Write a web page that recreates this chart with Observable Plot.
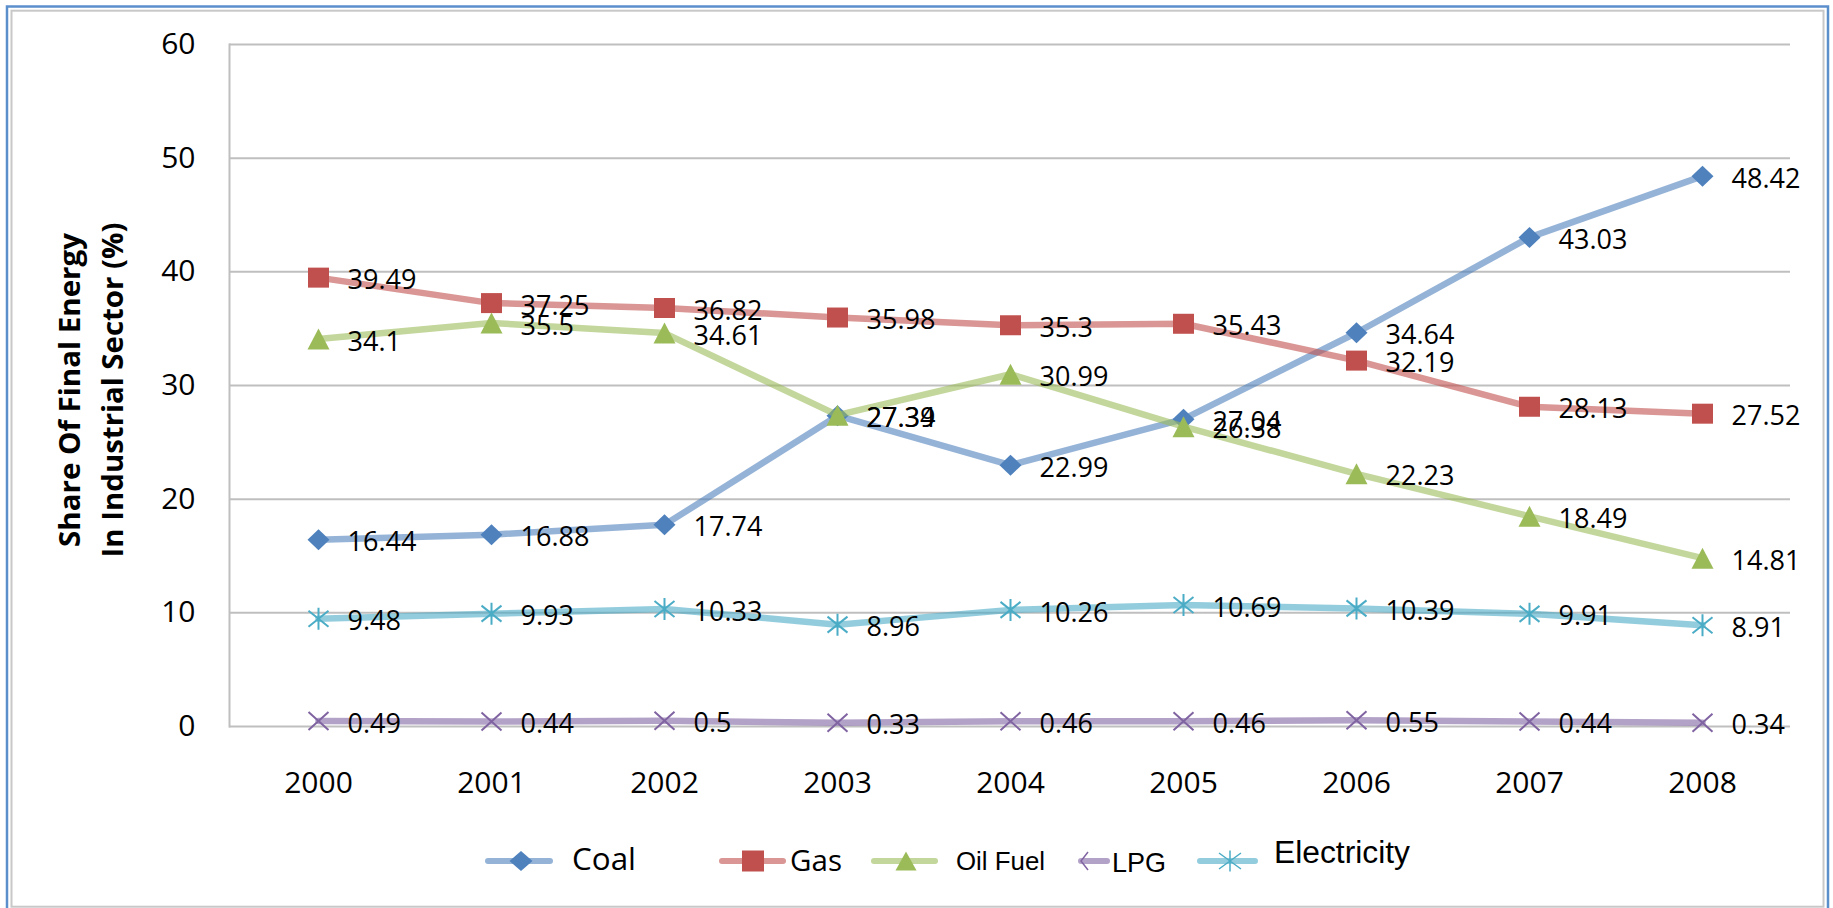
<!DOCTYPE html>
<html><head><meta charset="utf-8">
<script src="https://cdn.jsdelivr.net/npm/d3@7"></script>
<script src="https://cdn.jsdelivr.net/npm/@observablehq/plot@0.6"></script>
<style>
html,body{margin:0;padding:0;background:#fff;width:1833px;height:908px;overflow:hidden;}
#wrap{position:relative;width:1833px;height:908px;}
#chart{position:absolute;left:0;top:0;}
#overlay{position:absolute;left:0;top:0;pointer-events:none;}
</style></head><body>
<div id="wrap"><div id="chart"></div><svg id="overlay" width="1833" height="908" xmlns="http://www.w3.org/2000/svg"></svg></div>
<script>
const years = ["2000","2001","2002","2003","2004","2005","2006","2007","2008"];
const coal = [16.44, 16.88, 17.74, 27.34, 22.99, 27.04, 34.64, 43.03, 48.42];
const gas = [39.49, 37.25, 36.82, 35.98, 35.3, 35.43, 32.19, 28.13, 27.52];
const oilFuel = [34.1, 35.5, 34.61, 27.39, 30.99, 26.38, 22.23, 18.49, 14.81];
const lpg = [0.49, 0.44, 0.5, 0.33, 0.46, 0.46, 0.55, 0.44, 0.34];
const electricity = [9.48, 9.93, 10.33, 8.96, 10.26, 10.69, 10.39, 9.91, 8.91];
const seriesNames = ["Coal", "Gas", "Oil Fuel", "LPG", "Electricity"];
const seriesColors = ["#4F81BD", "#C0504D", "#9BBB59", "#8064A2", "#4BACC6"];
const yTicks = [0, 10, 20, 30, 40, 50, 60];
const yTitle = ["Share Of Final Energy", "In Industrial Sector (%)"];

const seriesValues = [coal, gas, oilFuel, lpg, electricity];

const sym = {
  diamond: {draw(c){c.moveTo(0,-10.5);c.lineTo(11,0);c.lineTo(0,10.5);c.lineTo(-11,0);c.closePath();}},
  square: {draw(c){c.rect(-10.5,-10,21,20);}},
  triangle: {draw(c){c.moveTo(0,-10.5);c.lineTo(11,10.5);c.lineTo(-11,10.5);c.closePath();}},
  times: {draw(c){c.moveTo(-10,-9);c.lineTo(10,9);c.moveTo(-10,9);c.lineTo(10,-9);}},
  asterisk: {draw(c){c.moveTo(0,-11);c.lineTo(0,11);c.moveTo(-10,-8);c.lineTo(10,8);c.moveTo(-10,8);c.lineTo(10,-8);}}
};
const symList = [sym.diamond, sym.square, sym.triangle, sym.times, sym.asterisk];
const filled = [true, true, true, false, false];

const series = seriesNames.map((name, i) => years.map((year, j) => ({year, value: seriesValues[i][j], series: name})));

const marks = [
  Plot.gridY(yTicks, {stroke: "#BFBFBF", strokeOpacity: 1, strokeWidth: 2}),
  Plot.frame({anchor: "left", stroke: "#BFBFBF", strokeWidth: 2}),
  Plot.axisX({tickSize: 0, tickPadding: 45, fontSize: 30, label: null}),
  Plot.axisY({ticks: yTicks, tickSize: 0, tickPadding: 34, fontSize: 30, label: null})
];
series.forEach((rows, i) => {
  marks.push(Plot.line(rows, {x: "year", y: "value", stroke: seriesColors[i], strokeOpacity: 0.6, strokeWidth: 6.5, strokeLinejoin: "round", strokeLinecap: "round"}));
  marks.push(Plot.dot(rows, filled[i]
    ? {x: "year", y: "value", symbol: symList[i], fill: seriesColors[i], stroke: "none", r: 6}
    : {x: "year", y: "value", symbol: symList[i], fill: "none", stroke: seriesColors[i], strokeWidth: 2, r: 6}));
});
series.forEach((rows) => {
  marks.push(Plot.text(rows, {x: "year", y: "value", text: d => String(d.value), dx: 29, dy: 3, textAnchor: "start", fontSize: 27, fill: "black"}));
});

const chart = Plot.plot({
  width: 1833, height: 800,
  marginLeft: 229, marginRight: 43, marginTop: 44, marginBottom: 74,
  style: {fontFamily: "'Open Sans', sans-serif", background: "transparent", color: "black", overflow: "visible"},
  x: {type: "point", domain: years, padding: 0.5},
  y: {domain: [0, 60]},
  marks
});
document.getElementById("chart").appendChild(chart);

// overlay: frame, y title, legend
const ov = d3.select("#overlay");
ov.append("rect").attr("x", 7).attr("y", 6.5).attr("width", 1821).attr("height", 960).attr("fill", "none").attr("stroke", "#5B8FCB").attr("stroke-width", 2.5);
ov.append("rect").attr("x", 11.5).attr("y", 10.7).attr("width", 1812).attr("height", 896).attr("fill", "none").attr("stroke", "#C8C8C8").attr("stroke-width", 2);

const tt = [{x: 80, len: 314}, {x: 123, len: 335}];
yTitle.forEach((t, i) => {
  ov.append("text").attr("transform", `translate(${tt[i].x},390) rotate(-90)`)
    .attr("text-anchor", "middle").attr("font-family", "'Open Sans', sans-serif").attr("font-weight", "bold")
    .attr("font-size", 28).attr("textLength", tt[i].len).attr("lengthAdjust", "spacingAndGlyphs").attr("fill", "black").text(t);
});

const openSans = "'Open Sans', sans-serif", arial = "'Liberation Sans', Arial, sans-serif";
const leg = [
  {x0: 488, x1: 550, mx: 521, tx: 572, base: 870, fs: 31, len: 64, ff: openSans},
  {x0: 722, x1: 783, mx: 753, tx: 790, base: 871, fs: 29, len: 52, ff: openSans},
  {x0: 874, x1: 935, mx: 906, tx: 956, base: 870, fs: 26, len: 89, ff: arial},
  {x0: 1081, x1: 1107, mx: 1081, tx: 1112, base: 872, fs: 28, len: 54, ff: arial},
  {x0: 1200, x1: 1255, mx: 1230, tx: 1274, base: 863, fs: 31, len: 136, ff: arial}
];
const ly = 861;
leg.forEach((L, i) => {
  const col = seriesColors[i];
  ov.append("line").attr("x1", L.x0).attr("x2", L.x1).attr("y1", ly).attr("y2", ly)
    .attr("stroke", col).attr("stroke-opacity", 0.6).attr("stroke-width", 6).attr("stroke-linecap", "round");
  const g = ov.append("g").attr("transform", `translate(${L.mx},${ly})`);
  if (i === 0) g.append("path").attr("d", "M0,-10L11.5,0L0,10L-11.5,0Z").attr("fill", col);
  if (i === 1) g.append("rect").attr("x", -11).attr("y", -10.5).attr("width", 22).attr("height", 21).attr("fill", col);
  if (i === 2) g.append("path").attr("d", "M0,-9.5L10.5,9.5L-10.5,9.5Z").attr("fill", col);
  if (i === 3) g.append("path").attr("d", "M7,-9L0,0L7,9").attr("fill", "none").attr("stroke", col).attr("stroke-width", 1.5);
  if (i === 4) g.append("path").attr("d", "M0,-10.5L0,10.5M-11,-8L11,8M-11,8L11,-8").attr("fill", "none").attr("stroke", col).attr("stroke-width", 1.5);
  ov.append("text").attr("x", L.tx).attr("y", L.base).attr("font-family", L.ff)
    .attr("font-size", L.fs).attr("textLength", L.len).attr("lengthAdjust", "spacingAndGlyphs").attr("fill", "black").text(seriesNames[i]);
});
</script>
</body></html>
